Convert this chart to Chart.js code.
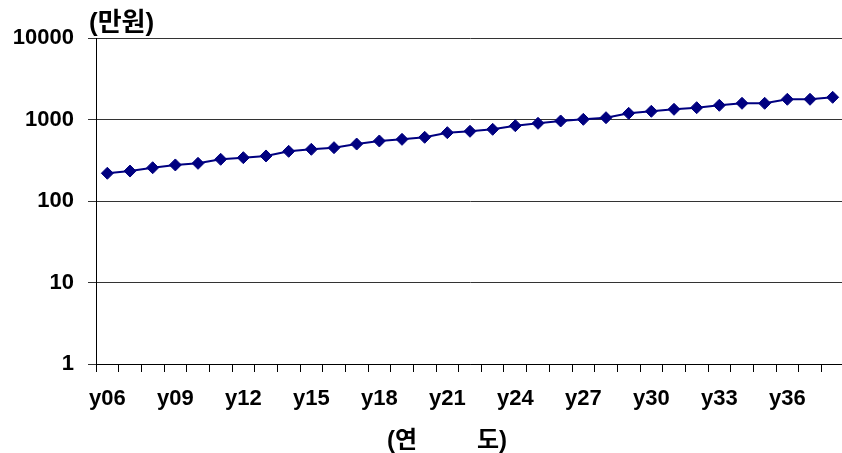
<!DOCTYPE html>
<html>
<head>
<meta charset="utf-8">
<script src="https://cdn.jsdelivr.net/npm/chart.js@4/dist/chart.umd.min.js"></script>
<style>
  html, body { margin: 0; padding: 0; background: #fff; overflow: hidden; }
  #wrap { position: absolute; left: 0; top: 0; width: 851px; height: 453px; }
</style>
</head>
<body>
<div id="wrap"><canvas id="c"></canvas></div>
<script>
const categories = ['y06','y07','y08','y09','y10','y11','y12','y13','y14','y15','y16',
  'y17','y18','y19','y20','y21','y22','y23','y24','y25','y26','y27',
  'y28','y29','y30','y31','y32','y33','y34','y35','y36','y37','y38'];
const values = [219, 233, 256, 277, 290, 325, 340, 357, 407, 431, 451,
  500, 545, 571, 605, 689, 717, 758, 839, 898, 959, 1005,
  1052, 1191, 1261, 1334, 1396, 1494, 1581, 1581, 1771, 1771, 1872];
const yTicks = [1, 10, 100, 1000, 10000];
const yTitle = '(만원)';
const xTitle = '(연         도)';

const FONT = '"Liberation Sans", Arial, "Noto Sans CJK KR", sans-serif';

const titlesPlugin = {
  id: 'titles',
  afterDraw(chart) {
    const ctx = chart.ctx;
    ctx.save();
    ctx.fillStyle = '#000';
    ctx.textBaseline = 'middle';
    ctx.textAlign = 'left';
    ctx.font = 'bold 26px ' + FONT;
    ctx.fillText(yTitle, chart.chartArea.left - 7, chart.chartArea.top - 14);
    ctx.textAlign = 'center';
    ctx.font = 'bold 24px ' + FONT;
    ctx.fillText(xTitle, 447, chart.chartArea.bottom + 77);
    ctx.restore();
  }
};

new Chart(document.getElementById('c'), {
  type: 'line',
  data: {
    labels: categories,
    datasets: [{
      data: values,
      borderColor: '#000080',
      backgroundColor: '#000080',
      borderWidth: 2,
      pointStyle: 'rectRot',
      pointRadius: 6,
      pointBorderWidth: 1,
      pointBackgroundColor: '#000080',
      pointBorderColor: '#000080',
      tension: 0,
      clip: false
    }]
  },
  options: {
    responsive: true,
    maintainAspectRatio: false,
    animation: false,
    layout: { padding: { left: 0, top: 38, right: 0, bottom: 0 } },
    plugins: { legend: { display: false }, tooltip: { enabled: false }, title: { display: false } },
    scales: {
      x: {
        type: 'category',
        offset: true,
        grid: { display: true, drawOnChartArea: false, offset: true, tickLength: 8, color: '#000', lineWidth: 1 },
        border: { display: true, color: '#000', width: 1 },
        ticks: {
          autoSkip: false, maxRotation: 0, minRotation: 0, padding: 14,
          color: '#000',
          font: { family: FONT, size: 22, weight: 'bold' },
          callback: function(v, i) { return i % 3 === 0 ? categories[i] : ''; }
        },
        afterFit(scale) { scale.height = 89; }
      },
      y: {
        type: 'logarithmic',
        min: 1, max: 10000,
        afterBuildTicks(scale) { scale.ticks = yTicks.map(v => ({ value: v })); },
        grid: { display: true, color: '#333333', lineWidth: 1, tickLength: 8 },
        border: { display: true, color: '#000', width: 1 },
        ticks: {
          padding: 14,
          color: '#000',
          font: { family: FONT, size: 22, weight: 'bold' },
          callback: function(v) { return String(v); }
        },
        afterFit(scale) { scale.width = 96; }
      }
    }
  },
  plugins: [titlesPlugin]
});
</script>
</body>
</html>
